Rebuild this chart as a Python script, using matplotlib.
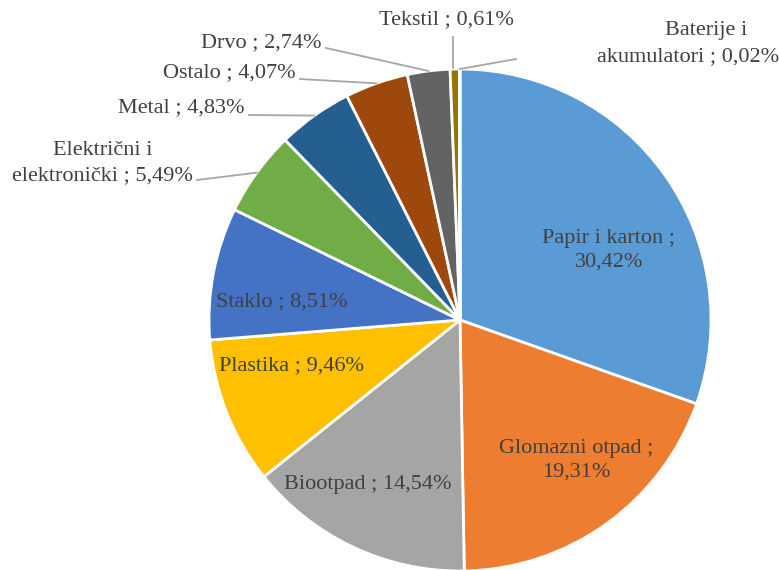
import numpy as np
import matplotlib
matplotlib.use("Agg")
import matplotlib.pyplot as plt

# Data

categories = ["Papir i karton", "Glomazni otpad", "Biootpad", "Plastika", "Staklo",
              "Električni i\nelektronički", "Metal", "Ostalo", "Drvo", "Tekstil",
              "Baterije i\nakumulatori"]
shares = [30.42, 19.31, 14.54, 9.46, 8.51, 5.49, 4.83, 4.07, 2.74, 0.61, 0.02]
share_labels = ["30,42%", "19,31%", "14,54%", "9,46%", "8,51%", "5,49%",
                "4,83%", "4,07%", "2,74%", "0,61%", "0,02%"]
colors = ["#5B9BD5", "#ED7D31", "#A5A5A5", "#FFC000", "#4472C4", "#70AD47",
          "#255E91", "#9E480E", "#636363", "#997300", "#264478"]

plt.rcParams["font.family"] = ["Liberation Serif", "DejaVu Serif"]

W, H = 779, 570
fig = plt.figure(figsize=(W / 100, H / 100), dpi=100)
ax = fig.add_axes([0, 0, 1, 1])

cx, cy, r = 460, H - 320, 251

wedges, _ = ax.pie(shares, colors=colors, startangle=90, counterclock=False,
                   center=(cx, cy), radius=r, frame=True,
                   wedgeprops=dict(edgecolor="white", linewidth=2))
ax.set_xlim(0, W)
ax.set_ylim(0, H)
ax.set_aspect("equal")
ax.axis("off")

txt = "#404040"
fs = 16
lc = "#A6A6A6"

# inside labels (pixel coords from top-left)
inside = {
    0: (609, 250, "Papir i karton ;\n"),
    1: (576, 460, "Glomazni otpad ;\n"),
    2: (368, 485, "Biootpad ; "),
    3: (292, 366, "Plastika ; "),
    4: (282, 302, "Staklo ; "),
}
for i, (x, y, pre) in inside.items():
    ax.text(x, H - y, pre + share_labels[i], ha="center", va="center",
            fontsize=fs, color=txt, linespacing=1.3)

# outside labels: text anchor, alignment, leader line start
outside = {
    5: (193, 163, "right", (197, 180)),
    6: (245, 108, "right", (249, 115)),
    7: (296, 73, "right", (300, 79)),
    8: (322, 43, "right", (326, 48)),
    9: (446, 20, "center", (453, 37)),
    10: (779, 44, "right", (516, 59)),
}
for i, (x, y, ha, (lx, ly)) in outside.items():
    name = categories[i]
    if i == 10:
        first, second = name.split("\n")
        ax.text(706, H - 30, first, ha="center", va="center",
                fontsize=fs, color=txt)
        ax.text(x, H - 57, second + " ; " + share_labels[i], ha="right",
                va="center", fontsize=fs, color=txt)
    else:
        ax.text(x, H - y, name + " ; " + share_labels[i], ha=ha, va="center",
                fontsize=fs, color=txt, linespacing=1.45,
                multialignment="center")

    w = wedges[i]
    mid = np.deg2rad((w.theta1 + w.theta2) / 2)
    ex = cx + r * np.cos(mid)
    ey = cy + r * np.sin(mid)
    if i == 9:
        ax.plot([lx, lx], [H - ly, ey + 1], color=lc, lw=1.3)
    else:
        ax.plot([lx, ex], [H - ly, ey], color=lc, lw=1.3)

fig.savefig("out.png", dpi=100)
